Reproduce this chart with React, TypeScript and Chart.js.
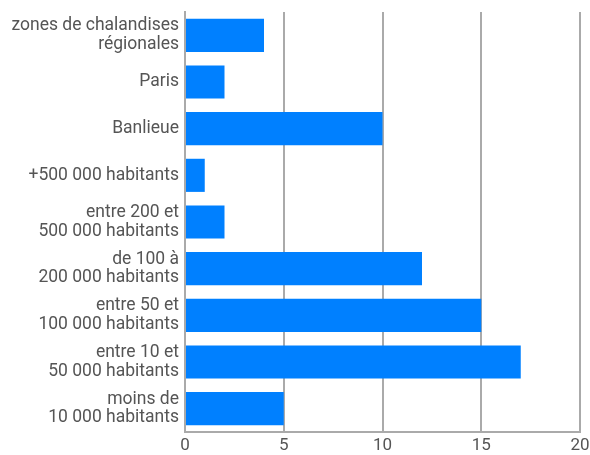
import React, { useEffect, useRef } from "react";
import { Chart, registerables } from "chart.js";

Chart.register(...registerables);

const categories: string[][] = [
  ["zones de chalandises", "régionales"],
  ["Paris"],
  ["Banlieue"],
  ["+500 000 habitants"],
  ["entre 200 et", "500 000 habitants"],
  ["de 100 à", "200 000 habitants"],
  ["entre 50 et", "100 000 habitants"],
  ["entre 10 et", "50 000 habitants"],
  ["moins de", "10 000 habitants"],
];
const values: number[] = [4, 2, 10, 1, 2, 12, 15, 17, 5];
const xTicks: number[] = [0, 5, 10, 15, 20];

export default function App() {
  const ref = useRef<HTMLCanvasElement>(null);
  useEffect(() => {
    if (!ref.current) return;
    const chart = new Chart(ref.current, {
      type: "bar",
      data: {
        labels: categories,
        datasets: [
          {
            data: values,
            backgroundColor: "#0080FF",
            borderWidth: 0,
            barPercentage: 0.71,
            categoryPercentage: 1,
          },
        ],
      },
      options: {
        indexAxis: "y",
        animation: false,
        responsive: false,
        maintainAspectRatio: false,
        layout: { padding: { top: 12, right: 10, left: 0, bottom: 0 } },
        plugins: { legend: { display: false }, tooltip: { enabled: false } },
        scales: {
          x: {
            min: xTicks[0],
            max: xTicks[xTicks.length - 1],
            afterBuildTicks: (axis: any) => {
              axis.ticks = xTicks.map((v) => ({ value: v }));
            },
            afterFit: (axis: any) => {
              axis.height = 23;
              axis.paddingLeft = 0;
              axis.paddingRight = 0;
            },
            grid: { color: "#aaaaaa", lineWidth: 2, drawTicks: false },
            border: { color: "#aaaaaa", width: 2 },
            ticks: {
              color: "#555555",
              padding: 4,
              font: { family: "Roboto", size: 17 },
            },
          },
          y: {
            afterFit: (axis: any) => {
              axis.width = 185;
              axis.paddingTop = 0;
              axis.paddingBottom = 0;
            },
            grid: { display: false, drawTicks: false },
            border: { color: "#aaaaaa", width: 2 },
            ticks: {
              color: "#555555",
              padding: 6,
              font: { family: "Roboto", size: 17.5, lineHeight: 1.08 },
            },
          },
        },
      },
    });
    return () => chart.destroy();
  }, []);
  return (
    <div style={{ position: "absolute", left: 0, top: 0, width: 590, height: 455, background: "#fff" }}>
      <canvas ref={ref} width={590} height={455} />
    </div>
  );
}
